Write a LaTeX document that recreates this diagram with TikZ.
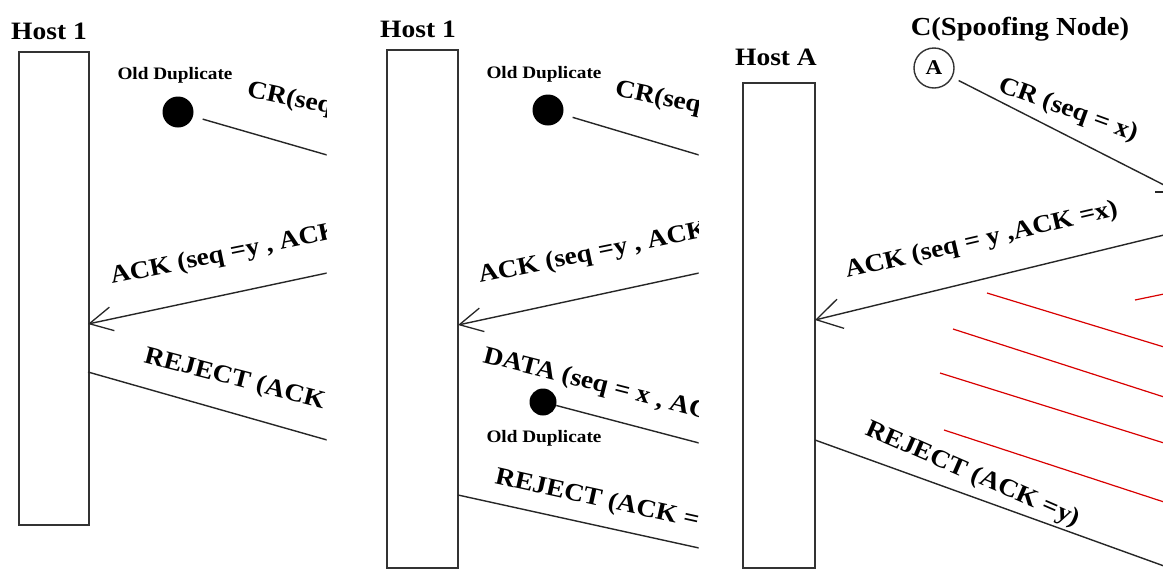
\documentclass[tikz,border=0pt]{standalone}
\usepackage{fontspec}
\setmainfont{Liberation Serif}[FakeStretch=1.1]
\usetikzlibrary{arrows.meta}
\tikzset{
  hostbox/.style={draw=black!80, line width=1.6pt, fill=white, inner sep=0pt},
  lbl/.style={font=\fontsize{25}{25}\selectfont\bfseries, inner sep=0pt},
  hostlbl/.style={font=\fontsize{25}{25}\selectfont\bfseries, inner sep=0pt, anchor=base},
  smalllbl/.style={font=\fontsize{17.5}{17.5}\selectfont\bfseries, inner sep=0pt, anchor=base},
  msg/.style={line width=1.4pt, black!85},
  dup/.style={circle, fill=black, inner sep=0pt},
  redl/.style={red!85!black, line width=1.2pt},
  tipA/.style={-{Straight Barb[length=23pt,width=24pt,line width=1.3pt]}},
  tipB/.style={-{Straight Barb[length=25pt,width=30pt,line width=1.3pt]}},
}
\begin{document}
\begin{tikzpicture}[x=1pt,y=-1pt]
\useasboundingbox (0,0) rectangle (1163,571);
\fill[white] (0,0) rectangle (1163,571);

% ---------------- Panel 1 ----------------
\begin{scope}
\clip (0,0) rectangle (326.5,571);
\node[hostlbl] (host1) at (49,39) {Host 1};
\node[hostbox, minimum width=70pt, minimum height=473pt] (box1) at (54,288.5) {};
\node[smalllbl] (old1) at (175,79) {Old Duplicate};
\node[dup, minimum size=31pt] (d1) at (178,112) {};
\node[lbl, anchor=base west, rotate=-12] (cr1) at (246,96) {CR(seq};
\node[lbl, anchor=base west, rotate=11.5] (ack1) at (112,284) {ACK (seq =y , ACK};
\node[lbl, anchor=base west, rotate=-14.5] (rej1) at (143,362) {REJECT (ACK};
\coordinate (cr1e) at (327,155);
\coordinate (ack1s) at (327,273);
\coordinate (ack1t) at (88,324);
\coordinate (rej1s) at (88,372);
\coordinate (rej1e) at (327,440);
\draw[msg, shorten <=10pt] (d1) -- (cr1e);
\draw[msg, tipA] (ack1s) -- (ack1t);
\draw[msg] (rej1s) -- (rej1e);
\end{scope}

% ---------------- Panel 2 ----------------
\begin{scope}
\clip (330,0) rectangle (698.5,571);
\node[hostlbl] (host2) at (418,37) {Host 1};
\node[hostbox, minimum width=71pt, minimum height=518pt] (box2) at (422.5,309) {};
\node[smalllbl] (old2) at (544,78) {Old Duplicate};
\node[dup, minimum size=31pt] (d2) at (548,110) {};
\node[lbl, anchor=base west, rotate=-12] (cr2) at (614,95) {CR(seq};
\node[lbl, anchor=base west, rotate=11.5] (ack2) at (480,283) {ACK (seq =y , ACK};
\node[lbl, anchor=base west, rotate=-14.3] (data2) at (482,362) {DATA (seq = x , AC};
\node[dup, minimum size=27pt] (d3) at (543,402) {};
\node[smalllbl] (old3) at (544,442) {Old Duplicate};
\node[lbl, anchor=base west, rotate=-12.5] (rej2) at (494,483) {REJECT (ACK =};
\coordinate (cr2e) at (699,155);
\coordinate (ack2s) at (699,273);
\coordinate (ack2t) at (458,325);
\coordinate (data2e) at (699,443);
\coordinate (rej2s) at (458,495);
\coordinate (rej2e) at (699,548);
\draw[msg, shorten <=10pt] (d2) -- (cr2e);
\draw[msg, tipA] (ack2s) -- (ack2t);
\draw[msg] (d3) -- (data2e);
\draw[msg] (rej2s) -- (rej2e);
\end{scope}

% ---------------- Panel 3 ----------------
\begin{scope}
\clip (700,0) rectangle (1163,571);
\node[hostlbl] (hostA) at (776,65) {Host A};
\node[hostbox, minimum width=72pt, minimum height=485pt] (box3) at (779,325.5) {};
\node[hostlbl, font=\fontsize{26}{26}\selectfont\bfseries] (spoof) at (1020,35) {C(Spoofing Node)};
\node[circle, draw=black!80, line width=1.4pt, minimum size=40pt, inner sep=0pt,
      font=\fontsize{21}{21}\selectfont\bfseries] (nodeA) at (934,68) {A};
\node[lbl, anchor=base west, rotate=-20] (cr3) at (997,91) {CR (seq = x)};
\node[lbl, anchor=base west, rotate=13] (ack3) at (847,278) {ACK (seq = y ,ACK =x)};
\node[lbl, anchor=base west, rotate=-23.5] (rej3) at (864,434) {REJECT (ACK =y)};
\coordinate (cr3e) at (1164,185);
\coordinate (tk1) at (1155,192);
\coordinate (tk2) at (1164,192);
\coordinate (ack3s) at (1164,235);
\coordinate (ack3t) at (815,320);
\coordinate (rej3s) at (815,440);
\coordinate (rej3e) at (1164,566);
\draw[msg, shorten <=7pt] (nodeA) -- (cr3e);
\draw[msg] (tk1) -- (tk2);
\draw[msg, tipB] (ack3s) -- (ack3t);
\draw[msg] (rej3s) -- (rej3e);
% red lines
\coordinate (r1a) at (987,293);  \coordinate (r1b) at (1164,347);
\coordinate (r2a) at (953,329);  \coordinate (r2b) at (1164,397);
\coordinate (r3a) at (940,373);  \coordinate (r3b) at (1164,443);
\coordinate (r4a) at (944,430);  \coordinate (r4b) at (1164,502);
\coordinate (r5a) at (1135,300); \coordinate (r5b) at (1164,294);
\draw[redl] (r1a) -- (r1b);
\draw[redl] (r2a) -- (r2b);
\draw[redl] (r3a) -- (r3b);
\draw[redl] (r4a) -- (r4b);
\draw[redl] (r5a) -- (r5b);
\end{scope}
\end{tikzpicture}
\end{document}
